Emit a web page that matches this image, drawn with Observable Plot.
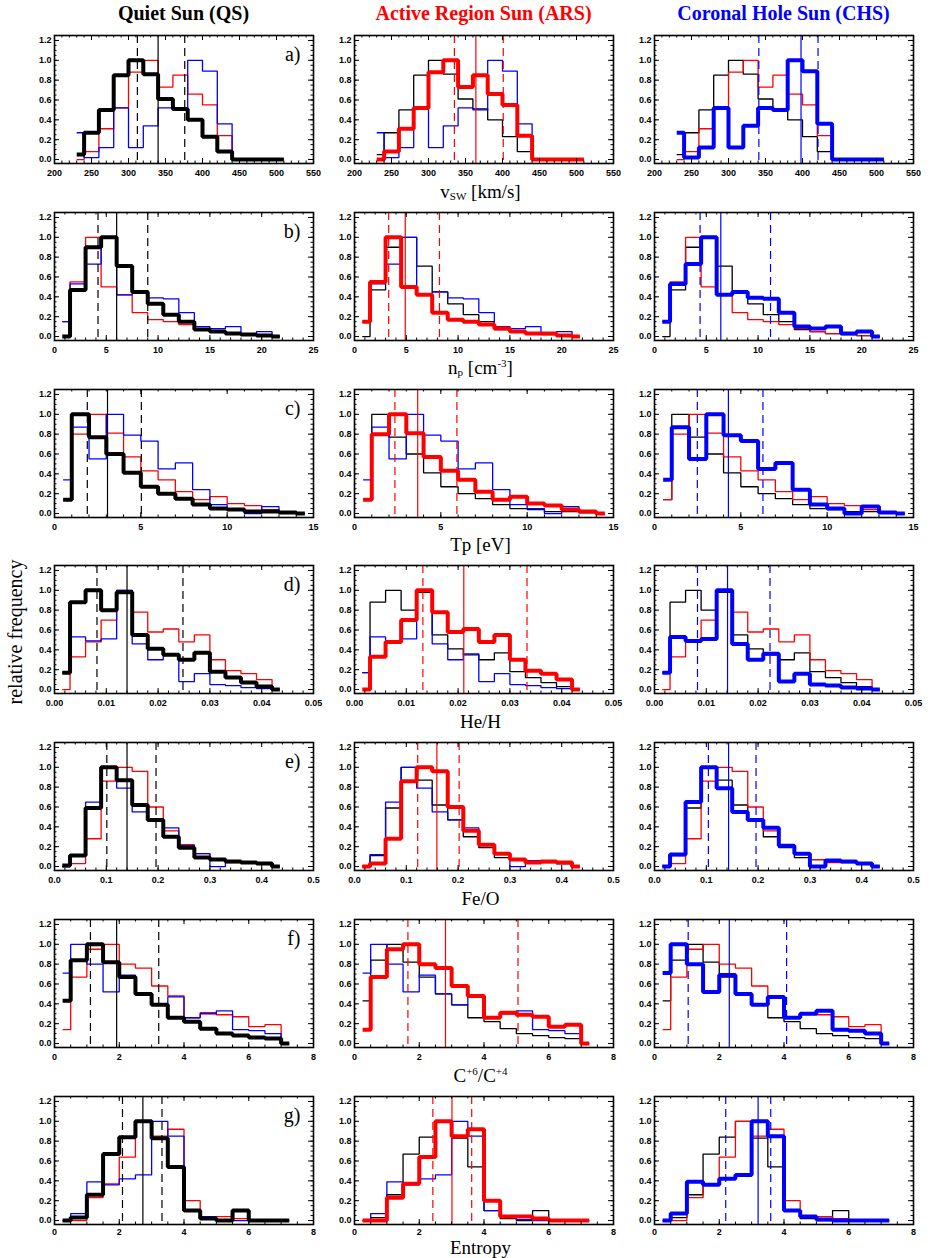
<!DOCTYPE html>
<html>
<head>
<meta charset="utf-8">
<script src="https://cdn.jsdelivr.net/npm/d3@7"></script>
<script src="https://cdn.jsdelivr.net/npm/@observablehq/plot@0.6"></script>
<style>
  body { margin: 0; background: #fff; }
  #fig { position: relative; width: 930px; height: 1258px; background: #fff; overflow: hidden; }
  .title { position: absolute; top: 3px; line-height: 20px; font-family: "Liberation Serif", "Times New Roman", serif; font-weight: bold; font-size: 20px; white-space: nowrap; transform: translateX(-50%); }
  .xlab { position: absolute; line-height: 14px; font-family: "Liberation Serif", "Times New Roman", serif; font-size: 19px; white-space: nowrap; transform: translateX(-50%); color: #000; }
  .xlab sub { font-size: 11px; vertical-align: -2px; line-height: 0; }
  .xlab sup { font-size: 11px; vertical-align: 7px; line-height: 0; }
  .ylab { position: absolute; font-family: "Liberation Serif", "Times New Roman", serif; font-size: 20px; white-space: nowrap; transform: translate(-50%, -50%) rotate(-90deg); }
  .panel { position: absolute; }
</style>
</head>
<body>
<div id="fig"></div>
<script>
// ---------------- data ----------------
const columnTitles = ["Quiet Sun (QS)", "Active Region Sun (ARS)", "Coronal Hole Sun (CHS)"];
const seriesColors = ["#000000", "#ff0000", "#0000ff"];
const panelLetters = ["a)", "b)", "c)", "d)", "e)", "f)", "g)"];
const xLabels = [
  "v<sub>SW</sub> [km/s]",
  "n<sub>p</sub> [cm<sup>-3</sup>]",
  "Tp [eV]",
  "He/H",
  "Fe/O",
  "C<sup>+6</sup>/C<sup>+4</sup>",
  "Entropy"
];
const yTicks = [0, 0.2, 0.4, 0.6, 0.8, 1.0, 1.2];

// a) solar wind speed
const vswBins = [230, 250, 270, 290, 310, 330, 350, 370, 390, 410, 430, 450, 470, 490, 510];
const vswQS  = [0.05, 0.27, 0.50, 0.85, 1.00, 0.86, 0.61, 0.51, 0.40, 0.23, 0.08, 0, 0, 0, 0];
const vswARS = [0.00, 0.08, 0.31, 0.52, 0.88, 1.00, 0.73, 0.85, 0.66, 0.55, 0.24, 0, 0, 0, 0];
const vswCHS = [0.27, 0.02, 0.12, 0.52, 0.12, 0.34, 0.52, 0.50, 1.00, 0.89, 0.36, 0, 0, 0, 0];
const vswLinesQS = [312, 340, 376], vswLinesARS = [335, 364, 401], vswLinesCHS = [341, 398, 421];
const vswTicks = [200, 250, 300, 350, 400, 450, 500, 550];

// b) proton density
const npBins = [0.75, 2.25, 3.75, 5.25, 6.75, 8.25, 9.75, 11.25, 12.75, 14.25, 15.75, 17.25, 18.75, 20.25, 21.75];
const npQS  = [0.00, 0.47, 0.90, 1.00, 0.71, 0.45, 0.33, 0.22, 0.15, 0.07, 0.05, 0.03, 0.02, 0.01, 0.00];
const npARS = [0.15, 0.55, 1.00, 0.50, 0.42, 0.24, 0.17, 0.15, 0.12, 0.08, 0.05, 0.03, 0.03, 0.01, 0.00];
const npCHS = [0.15, 0.53, 0.73, 1.00, 0.42, 0.45, 0.39, 0.38, 0.24, 0.10, 0.08, 0.10, 0.03, 0.05, 0.00];
const npLinesQS = [4.2, 6.0, 9.0], npLinesARS = [3.3, 4.9, 8.2], npLinesCHS = [4.4, 6.4, 11.2];
const npTicks = [0, 5, 10, 15, 20, 25];

// c) proton temperature
const tpBins = [0.5, 1.5, 2.5, 3.5, 4.5, 5.5, 6.5, 7.5, 8.5, 9.5, 10.5, 11.5, 12.5, 13.5, 14.5];
const tpQS  = [0.14, 1.00, 0.77, 0.60, 0.41, 0.27, 0.20, 0.15, 0.09, 0.05, 0.04, 0.02, 0.02, 0.01, 0.00];
const tpARS = [0.14, 0.80, 1.00, 0.81, 0.57, 0.43, 0.34, 0.22, 0.14, 0.17, 0.10, 0.08, 0.04, 0.02, 0.00];
const tpCHS = [0.34, 0.87, 0.55, 1.00, 0.79, 0.73, 0.45, 0.51, 0.24, 0.09, 0.05, 0.00, 0.07, 0.01, 0.00];
const tpLinesQS = [1.9, 3.07, 5.03], tpLinesARS = [2.34, 3.66, 5.93], tpLinesCHS = [2.48, 4.28, 6.28];
const tpTicks = [0, 5, 10, 15];

// d) He/H
const heBins = [0.0015, 0.0045, 0.0075, 0.0105, 0.0135, 0.0165, 0.0195, 0.0225, 0.0255, 0.0285, 0.0315, 0.0345, 0.0375, 0.0405, 0.0435];
const heQS  = [0.17, 0.88, 1.00, 0.80, 0.98, 0.55, 0.41, 0.35, 0.30, 0.37, 0.18, 0.12, 0.07, 0.03, 0.00];
const heARS = [0.00, 0.33, 0.48, 0.70, 1.00, 0.78, 0.58, 0.61, 0.48, 0.55, 0.30, 0.19, 0.16, 0.10, 0.00];
const heCHS = [0.17, 0.53, 0.49, 0.51, 1.00, 0.46, 0.30, 0.36, 0.08, 0.16, 0.05, 0.04, 0.02, 0.01, 0.00];
const heLinesQS = [0.0082, 0.0140, 0.0248], heLinesARS = [0.0132, 0.0211, 0.0333], heLinesCHS = [0.0083, 0.0141, 0.0223];
const heTicks = [0, 0.01, 0.02, 0.03, 0.04, 0.05];

// e) Fe/O
const feBins = [0.015, 0.045, 0.075, 0.105, 0.135, 0.165, 0.195, 0.225, 0.255, 0.285, 0.315, 0.345, 0.375, 0.405, 0.435];
const feQS  = [0.01, 0.11, 0.59, 1.00, 0.87, 0.62, 0.47, 0.30, 0.19, 0.09, 0.07, 0.05, 0.04, 0.03, 0.00];
const feARS = [0.00, 0.03, 0.28, 0.86, 1.00, 0.96, 0.60, 0.36, 0.22, 0.13, 0.07, 0.04, 0.05, 0.04, 0.00];
const feCHS = [0.00, 0.12, 0.65, 1.00, 0.79, 0.55, 0.47, 0.39, 0.21, 0.13, 0.00, 0.06, 0.05, 0.03, 0.00];
const feLinesQS = [0.101, 0.140, 0.196], feLinesARS = [0.122, 0.159, 0.202], feLinesCHS = [0.104, 0.143, 0.196];
const feTicks = [0, 0.1, 0.2, 0.3, 0.4, 0.5];

// f) C6+/C4+
const cBins = [0.25, 0.75, 1.25, 1.75, 2.25, 2.75, 3.25, 3.75, 4.25, 4.75, 5.25, 5.75, 6.25, 6.75, 7.25];
const cQS  = [0.43, 0.84, 1.00, 0.82, 0.67, 0.50, 0.39, 0.26, 0.22, 0.15, 0.10, 0.08, 0.06, 0.05, 0.00];
const cARS = [0.14, 0.67, 0.95, 1.00, 0.80, 0.76, 0.58, 0.48, 0.26, 0.31, 0.29, 0.27, 0.17, 0.19, 0.00];
const cCHS = [0.71, 1.00, 0.80, 0.52, 0.69, 0.50, 0.39, 0.47, 0.26, 0.30, 0.33, 0.14, 0.13, 0.10, 0.00];
const cLinesQS = [1.11, 1.92, 3.22], cLinesARS = [1.65, 2.81, 5.05], cLinesCHS = [1.04, 2.31, 4.08];
const cTicks = [0, 2, 4, 6, 8];

// g) Entropy
const entBins = [0.25, 0.75, 1.25, 1.75, 2.25, 2.75, 3.25, 3.75, 4.25, 4.75, 5.25, 5.75, 6.25, 6.75, 7.25];
const entQS  = [0.00, 0.03, 0.26, 0.67, 0.84, 1.00, 0.83, 0.54, 0.10, 0.02, 0.00, 0.10, 0.00, 0.00, 0.00];
const entARS = [0.00, 0.00, 0.23, 0.37, 0.64, 1.00, 0.85, 0.92, 0.20, 0.04, 0.04, 0.02, 0.00, 0.00, 0.00];
const entCHS = [0.00, 0.07, 0.39, 0.36, 0.42, 0.46, 1.00, 0.85, 0.10, 0.04, 0.01, 0.00, 0.00, 0.00, 0.00];
const entLinesQS = [2.10, 2.73, 3.32], entLinesARS = [2.42, 3.01, 3.62], entLinesCHS = [2.20, 3.20, 3.59];
const entTicks = [0, 2, 4, 6, 8];

// ---------------- table built from the arrays ----------------
const rows = [
  {bins: vswBins, series: [vswQS, vswARS, vswCHS], lines: [vswLinesQS, vswLinesARS, vswLinesCHS], ticks: vswTicks, minor: 10, fmt: "d"},
  {bins: npBins, series: [npQS, npARS, npCHS], lines: [npLinesQS, npLinesARS, npLinesCHS], ticks: npTicks, minor: 1, fmt: "d"},
  {bins: tpBins, series: [tpQS, tpARS, tpCHS], lines: [tpLinesQS, tpLinesARS, tpLinesCHS], ticks: tpTicks, minor: 1, fmt: "d"},
  {bins: heBins, series: [heQS, heARS, heCHS], lines: [heLinesQS, heLinesARS, heLinesCHS], ticks: heTicks, minor: 0.002, fmt: ".2f"},
  {bins: feBins, series: [feQS, feARS, feCHS], lines: [feLinesQS, feLinesARS, feLinesCHS], ticks: feTicks, minor: 0.02, fmt: ".1f"},
  {bins: cBins, series: [cQS, cARS, cCHS], lines: [cLinesQS, cLinesARS, cLinesCHS], ticks: cTicks, minor: 0.5, fmt: "d"},
  {bins: entBins, series: [entQS, entARS, entCHS], lines: [entLinesQS, entLinesARS, entLinesCHS], ticks: entTicks, minor: 0.5, fmt: "d"}
];

// ---------------- layout ----------------
const FW = 259, FH = 128;
const MT = 10, MB = 30, ML = 54, MR = 7;
const rowPitch = 176.8, firstFrameTop = 35, colPitch = 300;
const yDomain = [-0.04, 1.25];

function minorTicks(majors, step) {
  const lo = majors[0], hi = majors[majors.length - 1];
  const n = Math.round((hi - lo) / step);
  const out = [];
  for (let i = 0; i <= n; i++) out.push(+(lo + i * step).toFixed(6));
  return out;
}
const yMinor = minorTicks(yTicks, 0.05);

function makePanel(r, col, ri, isLast) {
  const marks = [];
  const order = [0, 1, 2].filter(s => s !== col);
  order.push(col);
  for (const s of order) {
    const pts = r.bins.map((b, i) => ({x: b, y: r.series[s][i]}));
    marks.push(Plot.line(pts, {
      x: "x", y: "y", curve: "step",
      stroke: seriesColors[s],
      strokeWidth: s === col ? 4 : 1.3,
      strokeLinejoin: "miter", strokeLinecap: "butt"
    }));
  }
  const L = r.lines[col];
  marks.push(Plot.ruleX([L[0], L[2]], {stroke: seriesColors[col], strokeWidth: 1.2, strokeDasharray: "8,5"}));
  marks.push(Plot.ruleX([L[1]], {stroke: seriesColors[col], strokeWidth: 1.2}));

  const xMinor = minorTicks(r.ticks, r.minor);
  // inward ticks on all four sides
  marks.push(Plot.tickX(r.ticks, {x: d => d, insetTop: FH - 5, stroke: "#000", strokeWidth: 1}));
  marks.push(Plot.tickX(r.ticks, {x: d => d, insetBottom: FH - 5, stroke: "#000", strokeWidth: 1}));
  marks.push(Plot.tickX(xMinor, {x: d => d, insetTop: FH - 2.5, stroke: "#000", strokeWidth: 1}));
  marks.push(Plot.tickX(xMinor, {x: d => d, insetBottom: FH - 2.5, stroke: "#000", strokeWidth: 1}));
  marks.push(Plot.tickY(yTicks, {y: d => d, insetRight: FW - 5, stroke: "#000", strokeWidth: 1}));
  marks.push(Plot.tickY(yTicks, {y: d => d, insetLeft: FW - 5, stroke: "#000", strokeWidth: 1}));
  marks.push(Plot.tickY(yMinor, {y: d => d, insetRight: FW - 2.5, stroke: "#000", strokeWidth: 1}));
  marks.push(Plot.tickY(yMinor, {y: d => d, insetLeft: FW - 2.5, stroke: "#000", strokeWidth: 1}));
  marks.push(Plot.frame({stroke: "#000", strokeWidth: 1.6}));

  marks.push(Plot.axisX(r.ticks, {anchor: "bottom", tickSize: 0, tickPadding: isLast ? 4 : 6, tickFormat: d3.format(r.fmt), label: null}));
  marks.push(Plot.axisY(yTicks, {anchor: "left", tickSize: 0, tickPadding: 3, tickFormat: d3.format(".1f"), label: null}));

  if (col === 0) {
    marks.push(Plot.text([panelLetters[ri]], {
      text: d => d, frameAnchor: "top-right", dx: -13, dy: 11,
      textAnchor: "end", lineAnchor: "top",
      fontSize: 20, fontFamily: "Liberation Serif, Times New Roman, serif", fontWeight: "normal"
    }));
  }

  return Plot.plot({
    width: ML + FW + MR,
    height: MT + FH + MB,
    marginLeft: ML, marginRight: MR, marginTop: MT, marginBottom: MB,
    x: {domain: [r.ticks[0], r.ticks[r.ticks.length - 1]]},
    y: {domain: yDomain},
    style: {fontFamily: "Liberation Sans, Arial, sans-serif", fontSize: "9px", fontWeight: "bold", background: "transparent", overflow: "visible"},
    marks
  });
}

const fig = document.getElementById("fig");

// column titles
columnTitles.forEach((t, c) => {
  const d = document.createElement("div");
  d.className = "title";
  d.textContent = t;
  d.style.left = (c * colPitch + ML + FW / 2) + "px";
  d.style.color = seriesColors[c];
  fig.appendChild(d);
});

rows.forEach((r, ri) => {
  const frameTop = firstFrameTop + ri * rowPitch;
  const isLast = ri === rows.length - 1;
  for (let c = 0; c < 3; c++) {
    const wrap = document.createElement("div");
    wrap.className = "panel";
    wrap.style.left = (c * colPitch) + "px";
    wrap.style.top = (frameTop - MT) + "px";
    wrap.appendChild(makePanel(r, c, ri, isLast));
    fig.appendChild(wrap);
  }
  // x label under the middle column
  const xl = document.createElement("div");
  xl.className = "xlab";
  xl.innerHTML = xLabels[ri];
  const baseline = isLast ? frameTop + FH + 30.5 : frameTop + FH + 35;
  xl.style.top = (baseline - 13.4) + "px";
  xl.style.left = (colPitch + ML + FW / 2 - 3) + "px";
  fig.appendChild(xl);
});

// y label
const yl = document.createElement("div");
yl.className = "ylab";
yl.textContent = "relative frequency";
yl.style.left = "15px";
yl.style.top = "632px";
fig.appendChild(yl);
</script>
</body>
</html>
